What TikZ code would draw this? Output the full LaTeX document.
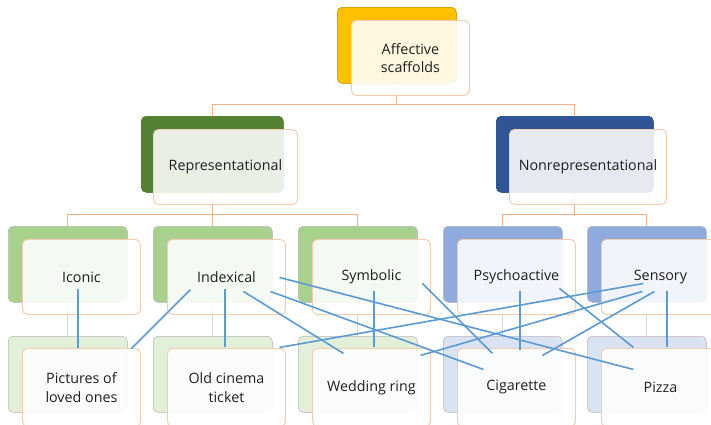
\documentclass[tikz,border=0pt]{standalone}
\usepackage{fontspec}
\setmainfont{Open Sans}
\usetikzlibrary{calc}
\definecolor{peach}{HTML}{F8CBAD}
\definecolor{conn}{HTML}{F4B183}
\definecolor{gold}{HTML}{FFC000}
\definecolor{dgreen}{HTML}{548235}
\definecolor{dblue}{HTML}{2F5597}
\definecolor{mgreen}{HTML}{A9D18E}
\definecolor{mblue}{HTML}{8FAADC}
\definecolor{lgreen}{HTML}{E2F0D9}
\definecolor{lblue}{HTML}{DAE3F3}
\definecolor{lnk}{HTML}{5B9BD5}
\tikzset{
  back/.style={anchor=north west, rounded corners=5pt, inner sep=0pt, minimum width=119pt, minimum height=76pt, draw=black!25, line width=0.5pt},
  front/.style={anchor=north west, rounded corners=5pt, inner sep=0pt, minimum width=118pt, minimum height=75pt, draw=peach, line width=0.9pt, fill=white, fill opacity=0.88, text opacity=1, align=center, font=\fontsize{14.3}{18.5}\selectfont, text=black!88},
  tree/.style={draw=conn, line width=0.8pt},
  faint/.style={draw=black!15, line width=0.8pt},
  link/.style={draw=lnk, line width=1.6pt, draw opacity=1}
}
\begin{document}
\begin{tikzpicture}[x=1pt,y=-1pt]
\useasboundingbox (0,0) rectangle (711,424);
\clip (0,0) rectangle (711,424);
% back boxes (named first so connectors can use them)
\path
  (337,7) node[back, fill=gold, draw=gold!80!black] (topb) {}
  (141,116) node[back, fill=dgreen, draw=dgreen, minimum width=142pt] (repb) {}
  (496,116) node[back, fill=dblue, draw=dblue, minimum width=157pt] (nrepb) {}
  (8,226) node[back, fill=mgreen] (icob) {}
  (153,226) node[back, fill=mgreen] (indb) {}
  (298,226) node[back, fill=mgreen] (symb) {}
  (443,226) node[back, fill=mblue] (psyb) {}
  (587,226) node[back, fill=mblue] (senb) {}
  (8,336) node[back, fill=lgreen] (picb) {}
  (153,336) node[back, fill=lgreen] (oldb) {}
  (298,336) node[back, fill=lgreen] (wedb) {}
  (443,336) node[back, fill=lblue] (cigb) {}
  (587,336) node[back, fill=lblue] (pizb) {};
% connectors behind
\coordinate (h1) at (0,104.5);
\coordinate (h2) at (0,214.5);
\draw[tree] (topb.center) -- (topb.center |- h1) -| (repb.center);
\draw[tree] (topb.center |- h1) -| (nrepb.center);
\foreach \c in {icob,indb,symb}{\draw[tree] (repb.center) -- (repb.center |- h2) -| (\c.center);}
\foreach \c in {psyb,senb}{\draw[tree] (nrepb.center) -- (nrepb.center |- h2) -| (\c.center);}
\draw[faint] (icob.center) -- (picb.center);
\draw[faint] (indb.center) -- (oldb.center);
\draw[faint] (symb.center) -- (wedb.center);
\draw[faint] (psyb.center) -- (cigb.center);
\draw[faint] (senb.center) -- (pizb.center);
% redraw back boxes on top of connectors
\path
  (337,7) node[back, fill=gold, draw=gold!80!black] {}
  (141,116) node[back, fill=dgreen, draw=dgreen, minimum width=142pt] {}
  (496,116) node[back, fill=dblue, draw=dblue, minimum width=157pt] {}
  (8,226) node[back, fill=mgreen] {}
  (153,226) node[back, fill=mgreen] {}
  (298,226) node[back, fill=mgreen] {}
  (443,226) node[back, fill=mblue] {}
  (587,226) node[back, fill=mblue] {}
  (8,336) node[back, fill=lgreen] {}
  (153,336) node[back, fill=lgreen] {}
  (298,336) node[back, fill=lgreen] {}
  (443,336) node[back, fill=lblue] {}
  (587,336) node[back, fill=lblue] {};
% front boxes
\node[front] (top) at (351,20) {Affective\\scaffolds};
\node[front, minimum width=144pt] (rep) at (153,129) {Representational};
\node[front, minimum width=157pt] (nrep) at (509,129) {Nonrepresentational};
\node[front] (ico) at (22,239) {Iconic};
\node[front] (ind) at (167,239) {Indexical};
\node[front] (sym) at (312,239) {Symbolic};
\node[front] (psy) at (457,239) {Psychoactive};
\node[front] (sen) at (601,239) {Sensory};
\node[front, minimum height=78pt] (pic) at (22,348) {Pictures of\\loved ones};
\node[front, minimum height=78pt] (old) at (167,348) {Old cinema\\ticket};
\node[front, minimum height=78pt] (wed) at (312,348) {Wedding ring};
\node[front, minimum height=78pt] (cig) at (457,348) {Cigarette};
\node[front, minimum height=78pt] (piz) at (601,348) {Pizza};
% blue links
\draw[link] ($(ico)+(-3.5,12.5)$) -- ($(pic)+(-3.5,-39)$);
\draw[link] ($(ind)+(-36,12.5)$) -- ($(pic)+(50,-39)$);
\draw[link] ($(ind)+(-1.5,12.5)$) -- ($(old)+(-1.5,-40)$);
\draw[link] ($(ind)+(17,14.5)$) -- ($(wed)+(-28,-34)$);
\draw[link] ($(ind)+(44,14.5)$) -- ($(cig)+(-33,-18)$);
\draw[link] ($(ind)+(53,0.5)$) -- ($(piz)+(-27,-18)$);
\draw[link] ($(sym)+(2.5,14.5)$) -- ($(wed)+(2.5,-40)$);
\draw[link] ($(sym)+(51,6.5)$) -- ($(cig)+(-24,-34)$);
\draw[link] ($(psy)+(3.5,14.5)$) -- ($(cig)+(3.5,-37)$);
\draw[link] ($(psy)+(43,11.5)$) -- ($(piz)+(-27,-40)$);
\draw[link] ($(sen)+(-17,6.5)$) -- ($(old)+(53,-40)$);
\draw[link] ($(sen)+(-18,14.5)$) -- ($(wed)+(49,-32)$);
\draw[link] ($(sen)+(-6,14.5)$) -- ($(cig)+(26,-32)$);
\draw[link] ($(sen)+(6.5,14.5)$) -- ($(piz)+(6.5,-40)$);
\end{tikzpicture}
\end{document}
